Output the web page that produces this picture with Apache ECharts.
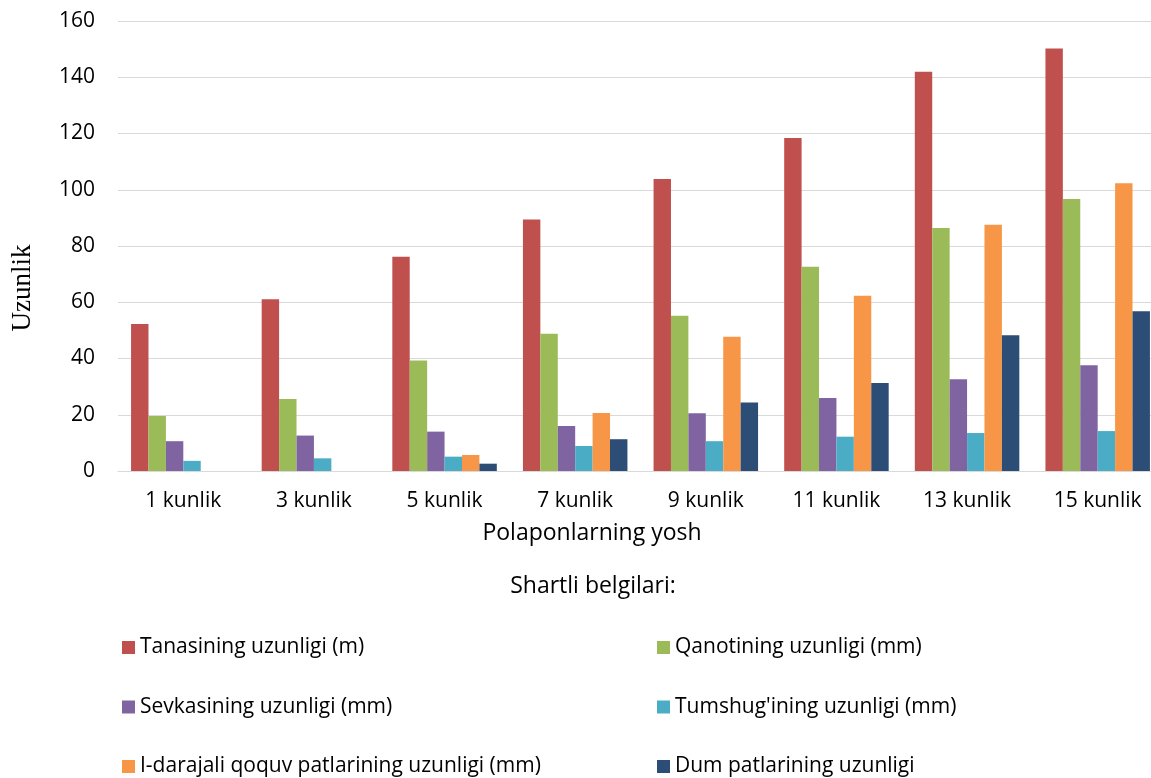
<!DOCTYPE html>
<html>
<head>
<meta charset="utf-8">
<style>
  html, body { margin: 0; padding: 0; background: #fff; overflow: hidden; width: 1151px; height: 778px; }
  /* the plot runs a little past the right window edge, so the canvas is wider than the page */
  #chart { width: 1170px; height: 778px; }
</style>
<script src="https://cdn.jsdelivr.net/npm/echarts@6/dist/echarts.min.js"></script>
</head>
<body>
<div id="chart"></div>
<script>
// Chick growth measurements by age (days)
const categories = ['1 kunlik', '3 kunlik', '5 kunlik', '7 kunlik', '9 kunlik', '11 kunlik', '13 kunlik', '15 kunlik'];

const seriesNames = [
  'Tanasining uzunligi (m)',
  'Qanotining uzunligi (mm)',
  'Sevkasining uzunligi (mm)',
  "Tumshug'ining uzunligi (mm)",
  'I-darajali qoquv patlarining uzunligi (mm)',
  'Dum patlarining uzunligi'
];

const tanasi   = [52.3, 61.1, 76.2, 89.4, 103.8, 118.4, 142.0, 150.2];
const qanoti   = [19.6, 25.6, 39.3, 48.8, 55.2, 72.6, 86.4, 96.7];
const sevkasi  = [10.6, 12.6, 14.0, 16.0, 20.5, 26.0, 32.6, 37.6];
const tumshugi = [3.6, 4.5, 5.1, 8.9, 10.6, 12.2, 13.5, 14.2];
const qoquv    = [null, null, 5.7, 20.6, 47.7, 62.3, 87.6, 102.3];
const dum      = [null, null, 2.6, 11.3, 24.4, 31.3, 48.3, 56.8];

const yTicks = { min: 0, max: 160, interval: 20 };

const colors = ['#C0504D', '#9BBB59', '#8064A2', '#4BACC6', '#F79646', '#2C4D75'];
const values = [tanasi, qanoti, sevkasi, tumshugi, qoquv, dum];

const font = '"Open Sans", "Noto Sans", sans-serif';
const textColor = '#000';

const chart = echarts.init(document.getElementById('chart'), null, { renderer: 'canvas' });

const legendText = { fontFamily: font, fontSize: 21, color: textColor };

const legendBase = {
  orient: 'vertical', top: 632, height: 200, width: 500,
  itemWidth: 13, itemHeight: 13, itemGap: 38.5, icon: 'rect',
  textStyle: legendText
};

function centeredText(text, x, y, size, family, rotation) {
  return {
    type: 'text',
    x: x, y: y,
    rotation: rotation || 0,
    style: {
      text: text,
      fontFamily: family,
      fontSize: size,
      fill: textColor,
      textAlign: 'center',
      textVerticalAlign: 'middle'
    }
  };
}

chart.setOption({
  animation: false,
  backgroundColor: '#fff',
  color: colors,
  graphic: [
    centeredText('Uzunlik', 23, 288, 27, '"Liberation Serif", "DejaVu Serif", serif', Math.PI / 2),
    centeredText('Polaponlarning yosh', 592, 533, 23, font),
    centeredText('Shartli belgilari:', 593, 586, 23, font)
  ],
  legend: [
    Object.assign({ data: [seriesNames[0], seriesNames[2], seriesNames[4]], left: 117 }, legendBase),
    Object.assign({ data: [seriesNames[1], seriesNames[3], seriesNames[5]], left: 652 }, legendBase)
  ],
  grid: { left: 118, top: 21, width: 1045, height: 450, containLabel: false },
  xAxis: {
    type: 'category',
    data: categories,
    axisLine: { show: true, lineStyle: { color: '#d9d9d9', width: 1 } },
    axisTick: { show: false },
    axisLabel: { fontFamily: font, fontSize: 21, color: textColor, margin: 20 }
  },
  yAxis: {
    type: 'value',
    min: yTicks.min, max: yTicks.max, interval: yTicks.interval,
    axisLine: { show: false },
    axisTick: { show: false },
    splitLine: { lineStyle: { color: '#d9d9d9', width: 1.2 } },
    axisLabel: { fontFamily: font, fontSize: 21, color: textColor, margin: 23 }
  },
  series: values.map((v, i) => ({
    name: seriesNames[i],
    type: 'bar',
    data: v,
    barGap: '0%',
    barCategoryGap: '20%',
    itemStyle: { color: colors[i] }
  }))
});
</script>
</body>
</html>
